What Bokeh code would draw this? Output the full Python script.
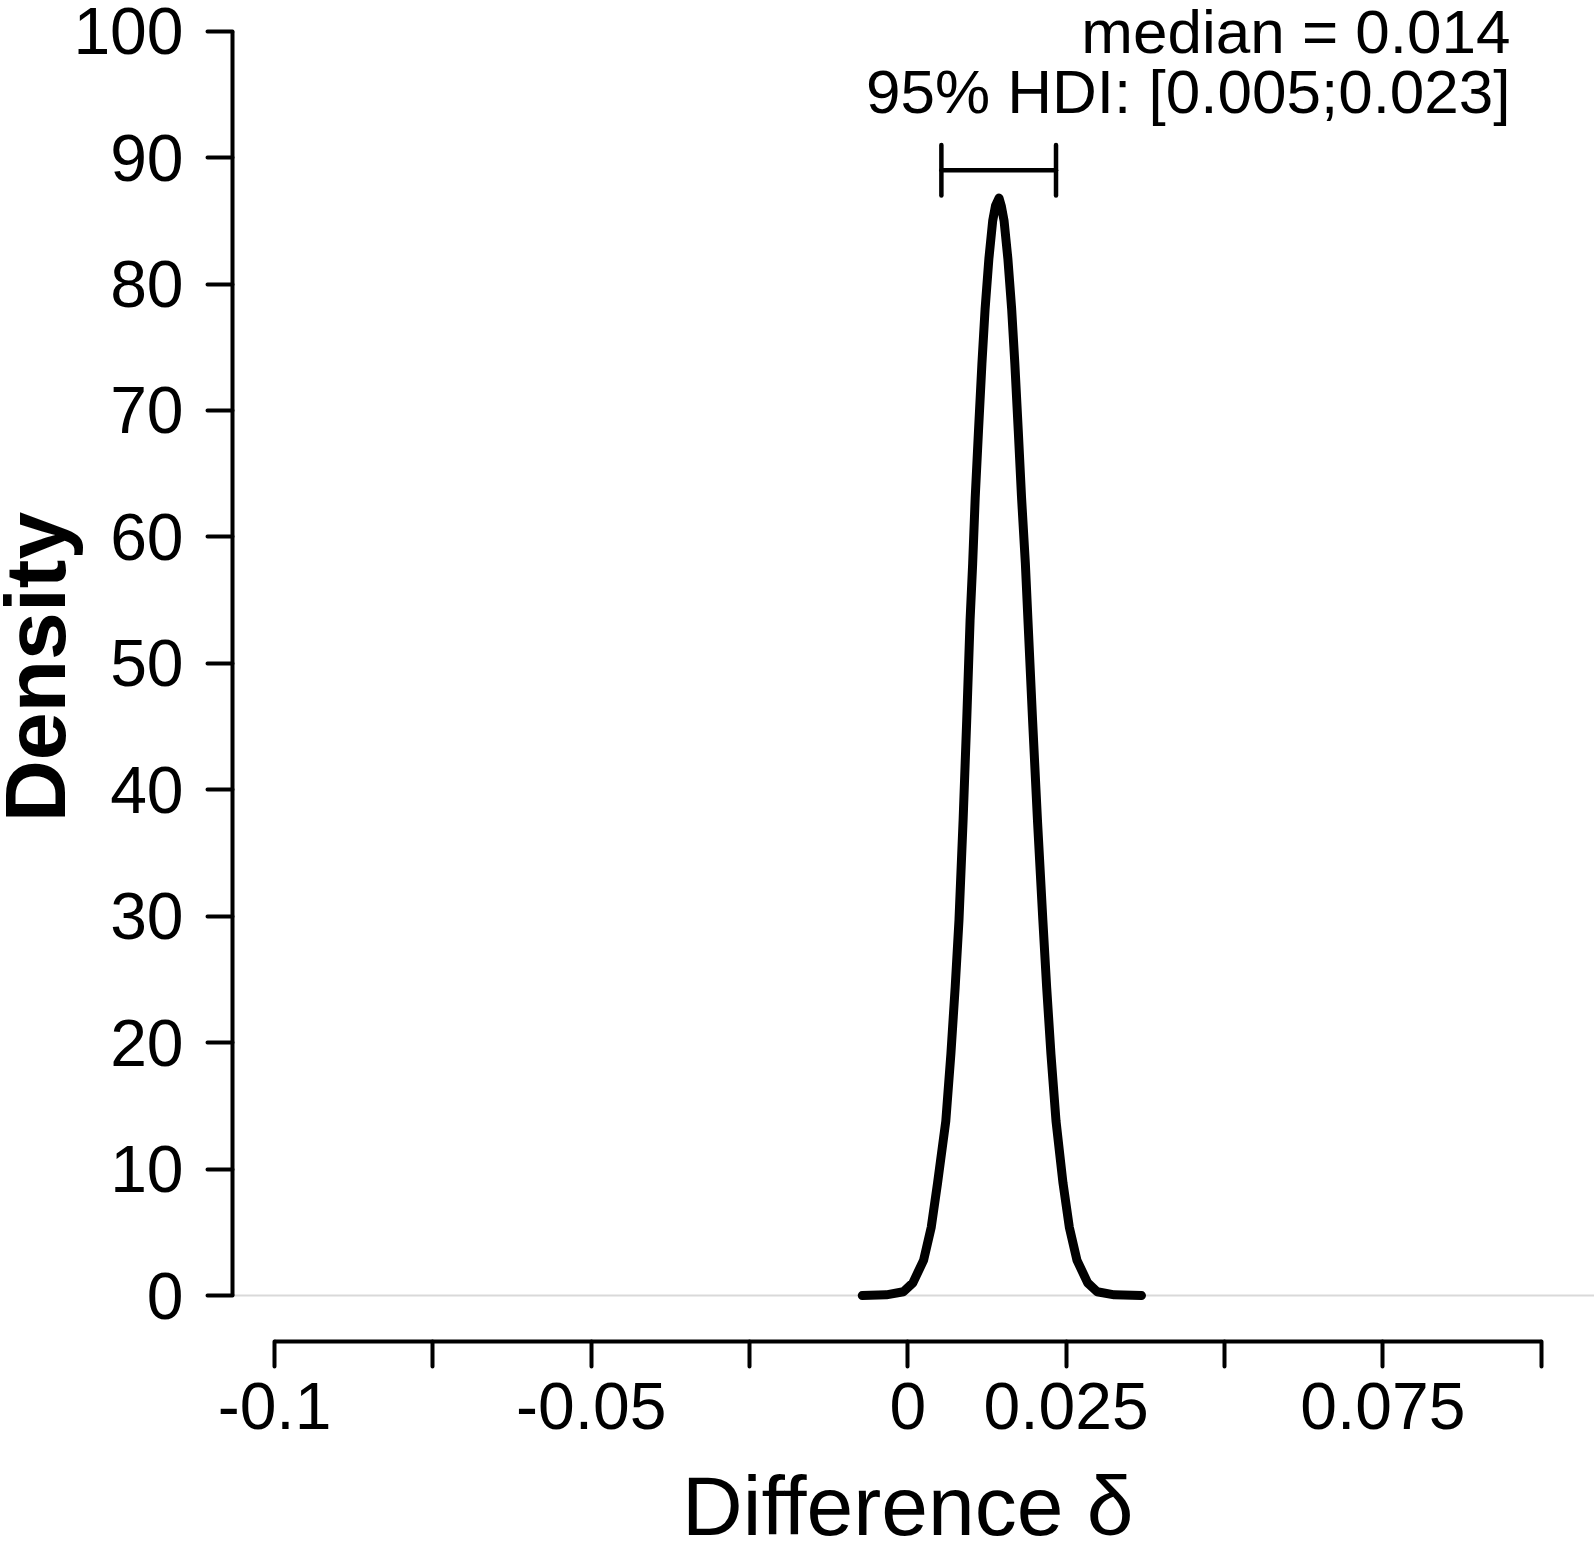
import math
from bokeh.plotting import figure
from bokeh.models import Range1d, FixedTicker, Label
from bokeh.embed import file_html
from bokeh.resources import INLINE

# ---- data ----
delta_x = [-0.0072, -0.0034, -0.0007, 0.0008, 0.0025, 0.0037, 0.0047, 0.0060,
           0.0068, 0.00748, 0.00808, 0.00873, 0.0093, 0.00983, 0.01024, 0.01064,
           0.01116, 0.0117, 0.0122, 0.0128, 0.0134, 0.01385, 0.0144, 0.01475,
           0.0152, 0.0158, 0.0164, 0.0169, 0.01744, 0.01796, 0.01856, 0.01897,
           0.0197, 0.02047, 0.02132, 0.02192, 0.0226, 0.0234, 0.0245, 0.0255,
           0.0267, 0.0284, 0.0299, 0.0326, 0.0369]
density_y = [0.0, 0.05, 0.3, 1.0, 2.8, 5.4, 8.9, 13.8,
             19.1, 24.4, 29.7, 37.6, 45.5, 53.4, 57.9, 63.1,
             68.4, 73.7, 78.0, 82.0, 85.0, 86.2, 86.8, 86.2,
             85.0, 82.0, 78.0, 73.7, 68.4, 63.1, 57.9, 53.4,
             45.5, 37.6, 29.7, 24.4, 19.1, 13.8, 8.9, 5.4,
             2.8, 1.0, 0.3, 0.05, 0.0]

x_ticks = [-0.1, -0.075, -0.05, -0.025, 0.0, 0.025, 0.05, 0.075, 0.1]
x_tick_labels = ["-0.1", "", "-0.05", "", "0", "0.025", "", "0.075", ""]
y_ticks = [0, 10, 20, 30, 40, 50, 60, 70, 80, 90, 100]

hdi_lower = 0.0053
hdi_upper = 0.0234
hdi_level = 89.0
median_text = "median = 0.014"
hdi_text = "95% HDI: [0.005;0.023]"
x_label = "Difference \u03b4"
y_label = "Density"

FONT = "Liberation Sans"

# plot frame covers the whole canvas; the axes sit at fixed data locations
X_START, X_END = -0.14327, 0.10843
Y_START, Y_END = -19.457, 102.428
YAXIS_AT = -0.10663   # x position of the vertical axis line
XAXIS_AT = -3.615     # y position of the horizontal axis line

p = figure(width=1594, height=1541, output_backend="svg", toolbar_location=None,
           x_range=Range1d(X_START, X_END), y_range=Range1d(Y_START, Y_END),
           min_border_left=0, min_border_right=0, min_border_top=0,
           min_border_bottom=0, title=None)
p.outline_line_color = None
p.grid.visible = False
p.background_fill_color = "white"
p.border_fill_color = "white"

for ax in (p.xaxis[0], p.yaxis[0]):
    ax.axis_line_width = 4
    ax.axis_line_color = "black"
    ax.major_tick_line_width = 4
    ax.major_tick_line_color = "black"
    ax.major_tick_line_cap = "round"
    ax.major_tick_in = 0
    ax.major_tick_out = 25
    ax.minor_tick_in = 0
    ax.minor_tick_out = 0
    ax.major_label_text_font = FONT
    ax.major_label_text_font_size = "66px"
    ax.major_label_text_color = "black"

xa = p.xaxis[0]
xa.ticker = FixedTicker(ticks=x_ticks)
xa.major_label_overrides = {t: s for t, s in zip(x_ticks, x_tick_labels)}
xa.bounds = (x_ticks[0], x_ticks[-1])
xa.major_label_standoff = 17
xa.fixed_location = XAXIS_AT

ya = p.yaxis[0]
ya.ticker = FixedTicker(ticks=y_ticks)
ya.bounds = (y_ticks[0], y_ticks[-1])
ya.major_label_standoff = 24
ya.fixed_location = YAXIS_AT

# light grey zero line from the vertical axis to the right edge
p.segment(x0=[YAXIS_AT], y0=[0], x1=[X_END], y1=[0],
          line_color="#d9d9d9", line_width=2, level="underlay")

p.line(delta_x, density_y, line_color="black", line_width=9,
       line_cap="round", line_join="round")

cap = 2.0
p.segment(x0=[hdi_lower, hdi_lower, hdi_upper],
          y0=[hdi_level, hdi_level - cap, hdi_level - cap],
          x1=[hdi_upper, hdi_lower, hdi_upper],
          y1=[hdi_level, hdi_level + cap, hdi_level + cap],
          line_color="black", line_width=4.5, line_cap="round")

p.add_layout(Label(x=0.09517, y=100.0, text=median_text, text_align="right",
                   text_baseline="alphabetic", text_font=FONT,
                   text_font_size="62px", text_color="black"))
p.add_layout(Label(x=0.09517, y=95.2, text=hdi_text, text_align="right",
                   text_baseline="alphabetic", text_font=FONT,
                   text_font_size="62px", text_color="black"))

p.add_layout(Label(x=0.0, y=-16.67, text=x_label, text_align="center",
                   text_baseline="alphabetic", text_font=FONT,
                   text_font_size="84px", text_color="black"))
p.add_layout(Label(x=-0.1379, y=49.71, text=y_label, angle=math.pi / 2,
                   text_align="center", text_baseline="alphabetic",
                   text_font=FONT, text_font_style="bold",
                   text_font_size="86px", text_color="black"))

open("out.html", "w").write(file_html(p, INLINE))
